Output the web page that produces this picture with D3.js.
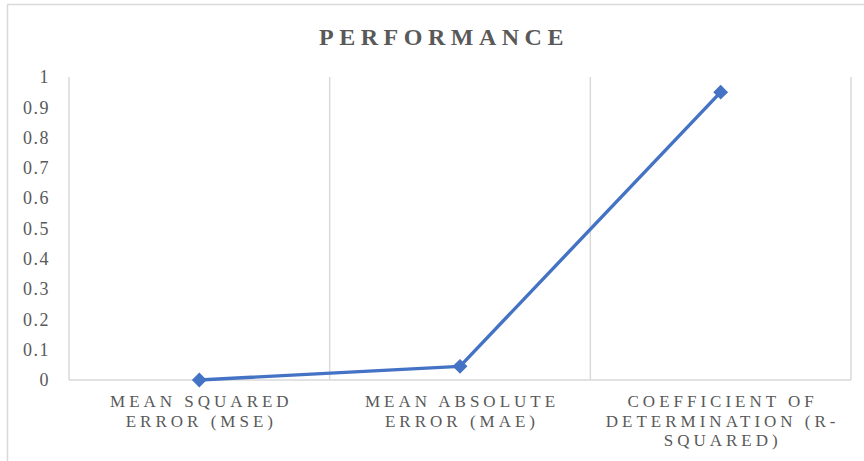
<!DOCTYPE html>
<html><head><meta charset="utf-8">
<script src="https://cdn.jsdelivr.net/npm/d3@7"></script>
<style>body{margin:0;background:#fff}svg{display:block}</style>
</head><body>
<script>
const categories = ["MEAN SQUARED ERROR (MSE)", "MEAN ABSOLUTE ERROR (MAE)", "COEFFICIENT OF DETERMINATION (R-SQUARED)"];
const categoryLines = [["MEAN SQUARED", "ERROR (MSE)"], ["MEAN ABSOLUTE", "ERROR (MAE)"], ["COEFFICIENT OF", "DETERMINATION (R-", "SQUARED)"]];
const values = [0, 0.045, 0.95];
const yTicks = [0, 0.1, 0.2, 0.3, 0.4, 0.5, 0.6, 0.7, 0.8, 0.9, 1];
const title = "PERFORMANCE";

const W = 864, H = 461;
const svg = d3.select("body").append("svg").attr("width", W).attr("height", H);
svg.append("rect").attr("x", 7.5).attr("y", 4.5).attr("width", 870).attr("height", 470)
  .attr("fill", "#fff").attr("stroke", "#d9d9d9").attr("stroke-width", 1.5);

const m = {l: 69, r: 851, t: 77, b: 380};
const x = d3.scaleBand().domain(categories).range([m.l, m.r]);
const y = d3.scaleLinear().domain([0, 1]).range([m.b, m.t]);
const font = "'Liberation Serif', 'Times New Roman', serif";

svg.append("text").attr("x", 444).attr("y", 45).attr("text-anchor", "middle")
  .attr("font-family", font).attr("font-size", 24).attr("font-weight", "bold")
  .attr("letter-spacing", 5.5).attr("fill", "#595959").text(title);

// vertical gridlines at category boundaries
const bounds = categories.map(c => x(c)).concat([m.r]);
svg.selectAll("line.vg").data(bounds).enter().append("line")
  .attr("x1", d => d).attr("x2", d => d).attr("y1", y(1)).attr("y2", y(0))
  .attr("stroke", "#d9d9d9").attr("stroke-width", 1.5);
// x axis line
svg.append("line").attr("x1", m.l).attr("x2", m.r).attr("y1", y(0)).attr("y2", y(0))
  .attr("stroke", "#d9d9d9").attr("stroke-width", 1.5);

// y tick labels
const yAxis = d3.axisLeft(y).tickValues(yTicks).tickSize(0).tickPadding(0).tickFormat(d3.format("~g"));
const ya = svg.append("g").attr("transform", `translate(50,0)`).call(yAxis);
ya.select(".domain").remove();
ya.selectAll("text").attr("font-family", font).attr("font-size", 18).attr("letter-spacing", 1.5).attr("fill", "#595959");

// x labels
const xl = svg.selectAll("g.xl").data(categories).enter().append("g")
  .attr("transform", d => `translate(${x(d) + x.bandwidth() / 2 + 2},0)`);
xl.each(function(d, i) {
  d3.select(this).selectAll("text").data(categoryLines[i]).enter().append("text")
    .attr("x", 0).attr("y", (t, j) => 407 + j * 19.5).attr("text-anchor", "middle")
    .attr("font-family", font).attr("font-size", 17).attr("letter-spacing", 4)
    .attr("fill", "#595959").text(t => t);
});

// line
const cx = d => x(d) + x.bandwidth() / 2;
const line = d3.line().x((d, i) => cx(categories[i])).y(d => y(d));
svg.append("path").datum(values).attr("d", line).attr("fill", "none")
  .attr("stroke", "#4472C4").attr("stroke-width", 3.4).attr("stroke-linejoin", "round");
svg.selectAll("path.mk").data(values).enter().append("path")
  .attr("d", d3.symbol().type(d3.symbolSquare).size(90))
  .attr("transform", (d, i) => `translate(${cx(categories[i])},${y(d)}) rotate(45)`)
  .attr("fill", "#4472C4").attr("stroke", "#4472C4").attr("stroke-width", 1);
</script>
</body></html>
